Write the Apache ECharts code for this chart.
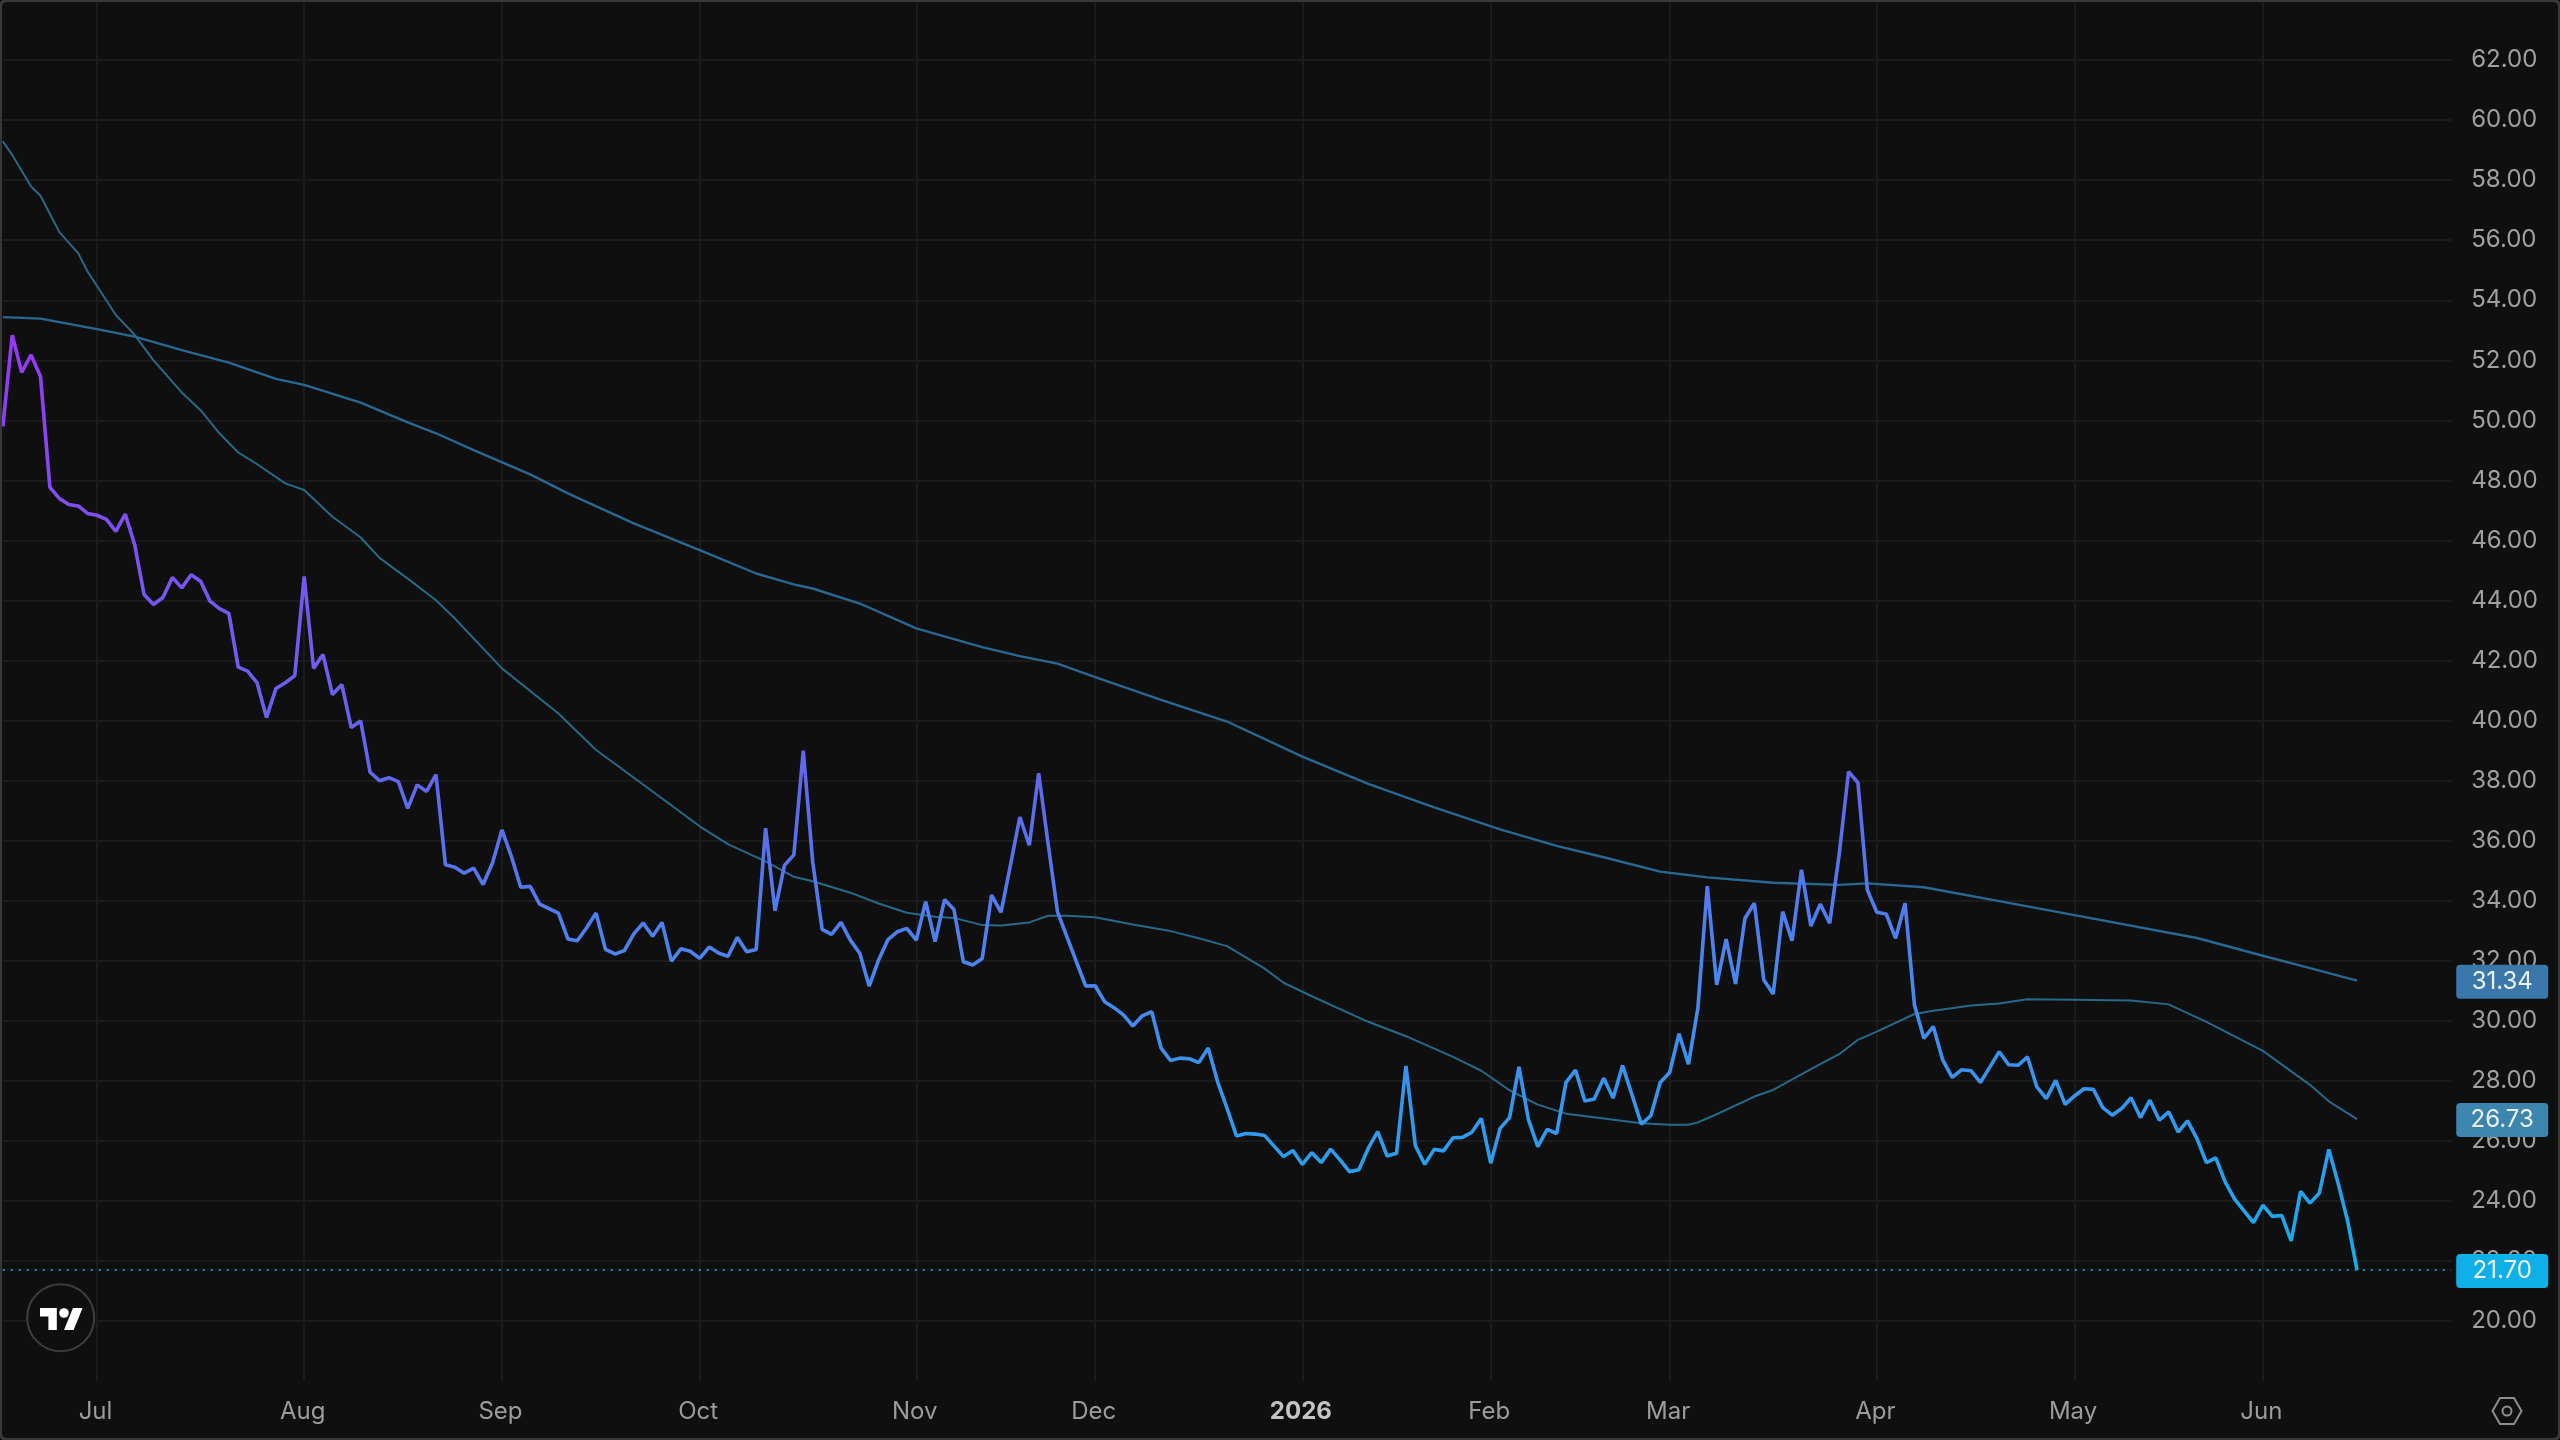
<!DOCTYPE html>
<html>
<head>
<meta charset="utf-8">
<style>
  html, body { margin: 0; padding: 0; background: #0f0f0f; }
  #chart-div { width: 2560px; height: 1440px; }
</style>
<script src="https://cdn.jsdelivr.net/npm/echarts@6/dist/echarts.min.js"></script>
</head>
<body>
<div id="chart-div"></div>
<script>
// daily closes, one per trading day
const closes = [
  49.8, 52.84, 51.6, 52.18, 51.46, 47.77, 47.4, 47.2, 47.15, 46.9,
  46.84, 46.7, 46.3, 46.88, 45.86, 44.2, 43.87, 44.1, 44.77, 44.42,
  44.86, 44.64, 43.98, 43.73, 43.57, 41.78, 41.65, 41.26, 40.1, 41.07,
  41.26, 41.5, 44.8, 41.74, 42.2, 40.87, 41.2, 39.77, 39.99, 38.28,
  38.0, 38.1, 37.97, 37.08, 37.86, 37.64, 38.2, 35.2, 35.12, 34.92,
  35.09, 34.54, 35.26, 36.36, 35.48, 34.45, 34.48, 33.89, 33.74, 33.59,
  32.73, 32.67, 33.1, 33.59, 32.38, 32.23, 32.34, 32.9, 33.26, 32.82,
  33.28, 31.99, 32.4, 32.32, 32.08, 32.46, 32.26, 32.15, 32.78, 32.3,
  32.38, 36.42, 33.67, 35.18, 35.53, 39.0, 35.3, 33.05, 32.88, 33.28,
  32.69, 32.25, 31.16, 32.03, 32.71, 32.97, 33.08, 32.69, 33.97, 32.64,
  34.04, 33.71, 31.97, 31.86, 32.08, 34.19, 33.61, 35.19, 36.79, 35.85,
  38.25, 35.9, 33.63, 32.8, 31.97, 31.16, 31.17, 30.64, 30.44, 30.2,
  29.83, 30.17, 30.31, 29.09, 28.68, 28.76, 28.74, 28.61, 29.1, 27.97,
  27.09, 26.17, 26.25, 26.23, 26.18, 25.83, 25.48, 25.68, 25.22, 25.61,
  25.28, 25.73, 25.37, 24.98, 25.04, 25.76, 26.31, 25.5, 25.59, 28.5,
  25.84, 25.22, 25.72, 25.67, 26.11, 26.12, 26.29, 26.75, 25.26, 26.42,
  26.78, 28.47, 26.72, 25.81, 26.39, 26.25, 27.95, 28.36, 27.33, 27.4,
  28.09, 27.43, 28.51, 27.54, 26.56, 26.84, 27.95, 28.28, 29.57, 28.56,
  30.42, 34.49, 31.2, 32.72, 31.23, 33.42, 33.92, 31.36, 30.9, 33.64,
  32.67, 35.03, 33.16, 33.89, 33.25, 35.53, 38.3, 37.93, 34.36, 33.62,
  33.56, 32.75, 33.92, 30.53, 29.42, 29.81, 28.7, 28.12, 28.37, 28.34,
  27.95, 28.46, 28.97, 28.54, 28.52, 28.8, 27.8, 27.41, 28.02, 27.22,
  27.5, 27.74, 27.72, 27.11, 26.86, 27.08, 27.44, 26.78, 27.36, 26.69,
  26.97, 26.3, 26.67, 26.08, 25.28, 25.44, 24.63, 24.06, 23.67, 23.28,
  23.86, 23.49, 23.52, 22.67, 24.32, 23.93, 24.27, 25.72, 24.58, 23.33,
  21.7,
];

// moving averages, [trading day index, value] at the places read
const ma200 = [
  [0, 53.44], [4, 53.39], [10, 53.04], [14, 52.79], [19, 52.34], [24, 51.92],
  [29, 51.38], [32, 51.18], [38, 50.59], [43, 49.93], [46, 49.57], [50, 49.01],
  [56, 48.2], [60, 47.57], [67, 46.57], [74, 45.68], [80, 44.9], [84, 44.54],
  [86, 44.4], [91, 43.9], [97, 43.07], [104, 42.45], [108, 42.15], [112, 41.9],
  [116, 41.45], [123, 40.69], [130, 39.97], [138, 38.8], [145, 37.89], [152, 37.11],
  [159, 36.38], [165, 35.83], [170, 35.45], [176, 34.97], [181, 34.78], [188, 34.6],
  [195, 34.53], [198, 34.58], [204, 34.45], [212, 33.99], [220, 33.52], [233, 32.76],
  [240, 32.17], [244, 31.84], [250, 31.34],
];
const ma50 = [
  [0, 59.29], [1, 58.84], [3, 57.79], [4, 57.48], [6, 56.27], [8, 55.57],
  [9, 54.96], [12, 53.51], [14, 52.85], [16, 52.0], [19, 50.93], [21, 50.34],
  [23, 49.57], [25, 48.93], [27, 48.54], [30, 47.9], [32, 47.68], [35, 46.79],
  [38, 46.1], [40, 45.42], [43, 44.73], [46, 44.01], [48, 43.4], [53, 41.74],
  [59, 40.24], [63, 39.02], [69, 37.64], [74, 36.48], [77, 35.89], [81, 35.31],
  [84, 34.8], [86, 34.65], [90, 34.27], [93, 33.91], [96, 33.6], [99, 33.47],
  [101, 33.43], [104, 33.19], [106, 33.18], [109, 33.28], [111, 33.5], [113, 33.5],
  [116, 33.45], [120, 33.21], [124, 32.99], [127, 32.75], [130, 32.49], [134, 31.74],
  [136, 31.27], [139, 30.82], [145, 29.97], [149, 29.49], [154, 28.8], [157, 28.34],
  [160, 27.69], [163, 27.21], [166, 26.91], [170, 26.75], [174, 26.59], [177, 26.54],
  [179, 26.54], [180, 26.62], [182, 26.89], [186, 27.48], [188, 27.7], [192, 28.39],
  [195, 28.89], [197, 29.37], [199, 29.64], [203, 30.23], [205, 30.34], [209, 30.51],
  [212, 30.58], [215, 30.72], [220, 30.7], [226, 30.68], [230, 30.55], [234, 29.97],
  [240, 29.0], [245, 27.87], [247, 27.32], [250, 26.73],
];

const monthTicks = [10, 32, 53, 74, 97, 116, 138, 158, 177, 199, 220, 240];
const monthLabels = ['Jul', 'Aug', 'Sep', 'Oct', 'Nov', 'Dec', '2026', 'Feb', 'Mar', 'Apr', 'May', 'Jun'];
const emptyDaysRight = 10;

const categories = [];
for (let i = 0; i < closes.length + emptyDaysRight; i++) {
  const m = monthTicks.indexOf(i);
  categories.push(m >= 0 ? monthLabels[m] : '');
}
const isMonth = (i, v) => v !== '';

const FONT = 'Inter';
const gridColor = '#1b1b1b';

const priceTag = (color) => ({
  show: true,
  position: 'end',
  distance: 51,
  offset: [0, 1],
  formatter: p => p.value.toFixed(2),
  backgroundColor: color,
  color: '#eef1f4',
  fontFamily: FONT,
  fontSize: 24,
  lineHeight: 24,
  width: 66,
  align: 'center',
  padding: [5, 13, 5, 13],
  borderRadius: 4,
});

const maSeries = (name, data, lineColor, width, tagColor) => ({
  name,
  type: 'line',
  data,
  showSymbol: false,
  symbol: 'none',
  lineStyle: { color: lineColor, width },
  markLine: {
    silent: true,
    symbol: 'none',
    animation: false,
    lineStyle: { color: 'rgba(0,0,0,0)', width: 1 },
    label: priceTag(tagColor),
    data: [{ yAxis: data[data.length - 1][1] }],
  },
});

const myChart = echarts.init(document.getElementById('chart-div'), null, { renderer: 'canvas' });
myChart.setOption({
  backgroundColor: '#0f0f0f',
  animation: false,
  grid: { left: 2.83, top: -2.5, width: 2448.4, height: 1383.7, containLabel: false },
  xAxis: {
    type: 'category',
    data: categories,
    boundaryGap: false,
    axisLine: { show: false },
    axisTick: { show: false },
    axisLabel: {
      interval: isMonth,
      margin: 19,
      padding: [0, 3, 0, 0],
      color: '#9c9c9c',
      fontFamily: FONT,
      fontSize: 24,
      formatter: v => (v === '2026' ? '{y|2026}' : v),
      rich: { y: { color: '#c4c4c4', fontFamily: FONT, fontSize: 24, fontWeight: 'bold' } },
    },
    splitLine: { show: true, interval: isMonth, lineStyle: { color: gridColor, width: 2 } },
  },
  yAxis: {
    type: 'value',
    position: 'right',
    min: 18,
    max: 64,
    interval: 2,
    axisLine: { show: false },
    axisTick: { show: false },
    axisLabel: {
      margin: 20,
      color: '#a0a0a0',
      fontFamily: FONT,
      fontSize: 24,
      showMinLabel: false,
      showMaxLabel: false,
      formatter: v => v.toFixed(2),
    },
    splitLine: { show: true, showMinLine: false, showMaxLine: false, lineStyle: { color: gridColor, width: 2 } },
  },
  series: [
    maSeries('MA200', ma200, '#2a6894', 2.4, '#3a78ab'),
    maSeries('MA50', ma50, '#27698a', 2, '#3c86ae'),
    {
      name: 'Close',
      type: 'line',
      data: closes,
      showSymbol: false,
      symbol: 'none',
      lineStyle: {
        width: 3.6,
        // colour runs with the price, purple at the top to cyan at the bottom
        color: new echarts.graphic.LinearGradient(0, 0, 0, 1, [
          { offset: 0, color: '#9538f2' },
          { offset: 0.25, color: '#7a55f0' },
          { offset: 0.48, color: '#6068ec' },
          { offset: 0.67, color: '#4a85ef' },
          { offset: 0.86, color: '#2f9bee' },
          { offset: 1, color: '#12aee8' },
        ]),
      },
      markLine: {
        silent: true,
        symbol: 'none',
        animation: false,
        lineStyle: { color: '#0e9ccf', width: 2, type: [2, 6] },
        label: priceTag('#0fb0e8'),
        data: [{ yAxis: closes[closes.length - 1] }],
      },
    },
  ],
  graphic: [
    // logo bottom left
    {
      type: 'circle',
      shape: { cx: 60.7, cy: 1317.7, r: 33.5 },
      style: { fill: '#0f0f0f', stroke: '#3e3e3e', lineWidth: 2 },
      z: 10,
    },
    {
      type: 'polygon',
      shape: { points: [[56.8, 1330], [48.4, 1330], [48.4, 1316.5], [40, 1316.5], [40, 1308], [56.8, 1308]] },
      style: { fill: '#ffffff' },
      z: 11,
    },
    {
      type: 'polygon',
      shape: { points: [[73.6, 1330], [64, 1330], [73, 1308], [82.6, 1308]] },
      style: { fill: '#ffffff' },
      z: 11,
    },
    {
      type: 'circle',
      shape: { cx: 64, cy: 1313, r: 4.8 },
      style: { fill: '#ffffff' },
      z: 11,
    },
    // settings icon bottom right
    {
      type: 'polygon',
      shape: { points: [[2492.5, 1411], [2500, 1398], [2514, 1398], [2521.5, 1411], [2514, 1424], [2500, 1424]] },
      style: { fill: 'none', stroke: '#8e8e8e', lineWidth: 2 },
      z: 10,
    },
    {
      type: 'circle',
      shape: { cx: 2507, cy: 1411, r: 4.5 },
      style: { fill: 'none', stroke: '#8e8e8e', lineWidth: 2 },
      z: 10,
    },
    // frame of the widget
    {
      type: 'rect',
      shape: { x: 0.5, y: 0.5, width: 2559, height: 1439, r: 6 },
      style: { fill: 'none', stroke: '#383838', lineWidth: 3 },
      z: 12,
    },
  ],
});
window.addEventListener('resize', myChart.resize);
</script>
</body>
</html>
